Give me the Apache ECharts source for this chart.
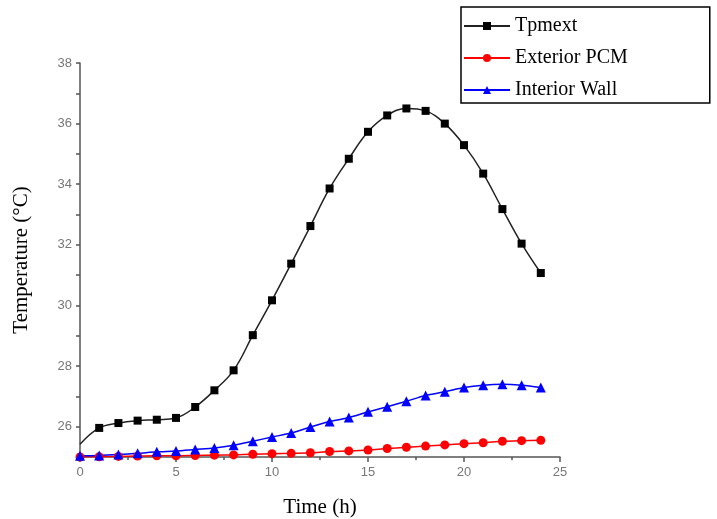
<!DOCTYPE html>
<html>
<head>
<meta charset="utf-8">
<script src="https://cdn.jsdelivr.net/npm/echarts@6/dist/echarts.min.js"></script>
<style>
  html, body { margin: 0; padding: 0; background: #fff; }
  #chart { width: 717px; height: 519px; }
</style>
</head>
<body>
<div id="chart"></div>
<script>
// hours 0..24
const hours = [0, 1, 2, 3, 4, 5, 6, 7, 8, 9, 10, 11, 12, 13, 14, 15, 16, 17, 18, 19, 20, 21, 22, 23, 24];
const tpmext = [25.42, 25.96, 26.12, 26.2, 26.23, 26.29, 26.65, 27.2, 27.86, 29.02, 30.17, 31.38, 32.62, 33.86, 34.84, 35.73, 36.27, 36.5, 36.42, 36.0, 35.29, 34.35, 33.18, 32.04, 31.07];
const exteriorPcm = [25.0, 25.01, 25.02, 25.03, 25.04, 25.04, 25.05, 25.06, 25.07, 25.09, 25.11, 25.12, 25.14, 25.18, 25.2, 25.23, 25.28, 25.32, 25.36, 25.4, 25.44, 25.47, 25.52, 25.54, 25.55];
const interiorWall = [25.04, 25.05, 25.08, 25.12, 25.17, 25.2, 25.25, 25.3, 25.39, 25.52, 25.66, 25.79, 25.99, 26.17, 26.3, 26.49, 26.66, 26.84, 27.03, 27.15, 27.29, 27.37, 27.4, 27.37, 27.29];

const pairs = (ys) => hours.map((h, i) => [h, ys[i]]);

const chart = echarts.init(document.getElementById('chart'));

const axisLabelStyle = { fontFamily: 'Liberation Sans', fontSize: 13, color: '#777' };
const axisNameStyle = { fontFamily: 'Liberation Serif', fontSize: 21, color: '#000' };

chart.setOption({
  animation: false,
  backgroundColor: '#fff',
  grid: { left: 80, right: 157, top: 63, bottom: 62, outerBoundsMode: 'none' },
  legend: {
    orient: 'vertical',
    left: 461,
    top: 7,
    padding: [9, 82, 3, 2],
    borderColor: '#000',
    borderWidth: 1.5,
    itemWidth: 46,
    itemHeight: 10,
    itemGap: 12,
    textStyle: { fontFamily: 'Liberation Serif', fontSize: 20, color: '#000' },
    data: ['Tpmext', 'Exterior PCM', 'Interior Wall']
  },
  xAxis: {
    type: 'value',
    min: 0,
    max: 25,
    interval: 5,
    name: 'Time (h)',
    nameLocation: 'middle',
    nameGap: 40,
    nameTextStyle: axisNameStyle,
    axisLine: { lineStyle: { color: '#555', width: 1.5 } },
    axisTick: { length: 5, lineStyle: { color: '#555', width: 1.5 } },
    minorTick: { show: true, splitNumber: 2, length: 3, lineStyle: { color: '#555', width: 1.5 } },
    axisLabel: Object.assign({ margin: 9 }, axisLabelStyle),
    splitLine: { show: false }
  },
  yAxis: {
    type: 'value',
    min: 25,
    max: 38,
    interval: 1,
    name: 'Temperature (°C)',
    nameLocation: 'middle',
    nameGap: 48,
    nameTextStyle: axisNameStyle,
    axisLine: { show: true, lineStyle: { color: '#555', width: 1.5 } },
    axisTick: { length: 4, lineStyle: { color: '#555', width: 1.5 } },
    axisLabel: Object.assign({
      margin: 8,
      formatter: (v) => (v % 2 === 0 ? String(v) : '')
    }, axisLabelStyle),
    splitLine: { show: false }
  },
  series: [
    {
      name: 'Tpmext',
      type: 'line',
      smooth: 0.4,
      data: pairs(tpmext).map((p, i) => (i === 0 ? { value: p, symbol: 'none' } : p)),
      symbol: 'rect',
      symbolSize: 8,
      color: '#000',
      lineStyle: { color: '#222', width: 1.5 },
      itemStyle: { color: '#000' },
      z: 3
    },
    {
      name: 'Exterior PCM',
      type: 'line',
      smooth: 0.3,
      data: pairs(exteriorPcm),
      symbol: 'circle',
      symbolSize: 9,
      color: '#ff0000',
      lineStyle: { color: '#ff0000', width: 1.5 },
      itemStyle: { color: '#ff0000' },
      z: 2
    },
    {
      name: 'Interior Wall',
      type: 'line',
      smooth: 0.3,
      data: pairs(interiorWall),
      symbol: 'triangle',
      symbolSize: 10,
      color: '#0000ff',
      lineStyle: { color: '#0000ff', width: 1.5 },
      itemStyle: { color: '#0000ff' },
      z: 2
    }
  ]
});
</script>
</body>
</html>
